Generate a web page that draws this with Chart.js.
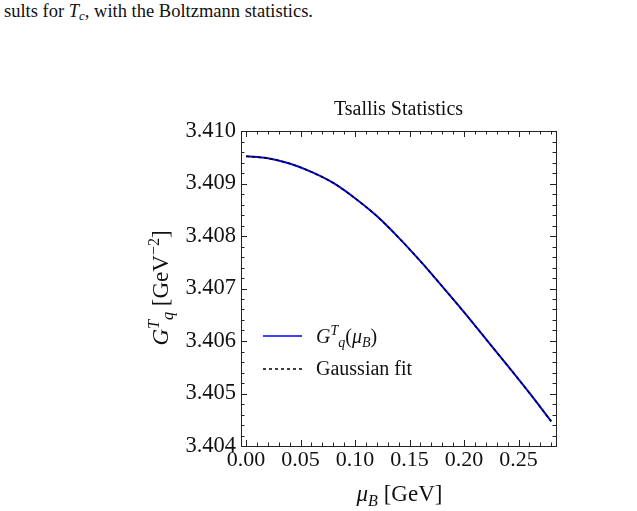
<!DOCTYPE html>
<html>
<head>
<meta charset="utf-8">
<script src="https://cdn.jsdelivr.net/npm/chart.js@4.4.0/dist/chart.umd.min.js"></script>
<style>
  body { margin: 0; background: #fff; }
  #wrap { position: relative; width: 637px; height: 511px; }
  #caption {
    position: absolute; left: 4px; top: 1px;
    font-family: 'Liberation Serif', 'Times New Roman', serif;
    font-size: 18.5px; color: #111; white-space: nowrap;
  }
  #caption sub { font-size: 13px; vertical-align: -3px; line-height: 0; }
  canvas { position: absolute; left: 0; top: 0; }
</style>
</head>
<body>
<div id="wrap">
  <div id="caption">sults for <i>T</i><sub><i>c</i></sub>, with the Boltzmann statistics.</div>
  <canvas id="chart" width="637" height="511"></canvas>
</div>
<script>
// values
const muB = [0, 0.02, 0.04, 0.06, 0.08, 0.10, 0.12, 0.14, 0.16, 0.18, 0.20, 0.22, 0.24, 0.26, 0.28];
const gTq = [3.40952, 3.40948, 3.40938, 3.40922, 3.40901, 3.40872, 3.40838, 3.40797,
             3.40752, 3.40704, 3.40655, 3.40604, 3.40553, 3.40501, 3.40447];
const gaussFit = [3.40952, 3.40948, 3.40938, 3.40922, 3.40901, 3.40872, 3.40838, 3.40797,
                  3.40752, 3.40704, 3.40655, 3.40604, 3.40553, 3.40501, 3.40447];
const xTicks = [0, 0.05, 0.10, 0.15, 0.20, 0.25];
const yTicks = [3.404, 3.405, 3.406, 3.407, 3.408, 3.409, 3.410];

const FONT = "'Liberation Serif', 'Times New Roman', serif";

function pts(xs, ys) {
    return xs.map(function(x, i) { return { x: x, y: ys[i] }; });
}

// draw text made of parts: [text, italic, 'sup' | 'sub' | '']
function richText(ctx, parts, x, y, size, align) {
    function font(p) {
        const s = p[2] ? size * 0.7 : size;
        return (p[1] ? 'italic ' : '') + s + 'px ' + FONT;
    }
    let w = 0;
    parts.forEach(function(p) { ctx.font = font(p); w += ctx.measureText(p[0]).width; });
    let cx = align === 'center' ? x - w / 2 : x;
    parts.forEach(function(p) {
        ctx.font = font(p);
        let dy = 0;
        if (p[2] === 'sup') dy = -size * 0.38;
        if (p[2] === 'sub') dy = size * 0.22;
        ctx.fillText(p[0], cx, y + dy);
        cx += ctx.measureText(p[0]).width;
    });
}

// frame with inward ticks on all four sides
const framePlugin = {
    id: 'frame',
    afterDatasetsDraw: function(chart) {
        const ctx = chart.ctx, a = chart.chartArea;
        const xs = chart.scales.x, ys = chart.scales.y;
        ctx.save();
        ctx.strokeStyle = '#222';
        ctx.lineWidth = 1;
        ctx.strokeRect(a.left + 0.5, a.top + 0.5, a.right - a.left, a.bottom - a.top);
        ctx.beginPath();
        for (let i = 0; i <= 28; i++) {
            const v = i * 0.01;
            const px = Math.round(xs.getPixelForValue(v)) + 0.5;
            const len = i % 5 === 0 ? 6 : 3.5;
            ctx.moveTo(px, a.bottom); ctx.lineTo(px, a.bottom - len);
            ctx.moveTo(px, a.top); ctx.lineTo(px, a.top + len);
        }
        for (let i = 0; i <= 30; i++) {
            const v = 3.404 + i * 0.0002;
            const py = Math.round(ys.getPixelForValue(v)) + 0.5;
            const len = i % 5 === 0 ? 6 : 3.5;
            ctx.moveTo(a.left, py); ctx.lineTo(a.left + len, py);
            ctx.moveTo(a.right, py); ctx.lineTo(a.right - len, py);
        }
        ctx.stroke();
        ctx.restore();
    },
    afterDraw: function(chart) {
        const ctx = chart.ctx, a = chart.chartArea;
        ctx.save();
        ctx.fillStyle = '#111';
        ctx.textBaseline = 'alphabetic';
        ctx.textAlign = 'left';

        // title
        ctx.font = '20px ' + FONT;
        ctx.textAlign = 'center';
        ctx.fillText('Tsallis Statistics', (a.left + a.right) / 2, 115);
        ctx.textAlign = 'left';

        // x axis title
        richText(ctx, [['\u03bc', true, ''], ['B', true, 'sub'], [' [GeV]', false, '']],
                 (a.left + a.right) / 2 + 1, 501, 23, 'center');

        // y axis title
        ctx.save();
        ctx.translate(168, 288);
        ctx.rotate(-Math.PI / 2);
        richText(ctx, [['G', true, ''], ['T', true, 'sup'], ['q', true, 'sub'],
                       [' [GeV', false, ''], ['\u22122', false, 'sup'], [']', false, '']],
                 0, 0, 23, 'center');
        ctx.restore();

        // legend
        ctx.lineWidth = 1.5;
        ctx.strokeStyle = '#0000ff';
        ctx.beginPath(); ctx.moveTo(263, 336); ctx.lineTo(302, 336); ctx.stroke();
        ctx.strokeStyle = '#000';
        ctx.setLineDash([3, 3]);
        ctx.beginPath(); ctx.moveTo(263, 369); ctx.lineTo(302, 369); ctx.stroke();
        ctx.setLineDash([]);
        richText(ctx, [['G', true, ''], ['T', true, 'sup'], ['q', true, 'sub'], ['(', false, ''],
                       ['\u03bc', true, ''], ['B', true, 'sub'], [')', false, '']], 316, 343, 20, 'left');
        ctx.font = '20px ' + FONT;
        ctx.fillText('Gaussian fit', 316, 375);
        ctx.restore();
    }
};

new Chart(document.getElementById('chart').getContext('2d'), {
    type: 'scatter',
    data: {
        datasets: [{
            label: 'G^T_q(muB)',
            data: pts(muB, gTq),
            showLine: true,
            borderColor: '#0000ff',
            borderWidth: 2,
            pointRadius: 0,
            order: 1,
            cubicInterpolationMode: 'monotone'
        }, {
            label: 'Gaussian fit',
            data: pts(muB, gaussFit),
            showLine: true,
            borderColor: '#000000',
            borderWidth: 1.5,
            borderDash: [3, 3],
            pointRadius: 0,
            order: 0,
            cubicInterpolationMode: 'monotone'
        }]
    },
    options: {
        responsive: false,
        animation: false,
        devicePixelRatio: 1,
        layout: { padding: { left: 0, right: 81, top: 131, bottom: 0 } },
        plugins: { legend: { display: false }, title: { display: false }, tooltip: { enabled: false } },
        scales: {
            x: {
                type: 'linear',
                min: -0.0046,
                max: 0.2844,
                grid: { display: false, drawTicks: false },
                border: { display: false },
                afterBuildTicks: function(s) { s.ticks = xTicks.map(function(v) { return { value: v }; }); },
                afterFit: function(s) { s.height = 65; },
                ticks: {
                    padding: 1,
                    color: '#111',
                    font: { family: FONT, size: 22 },
                    maxRotation: 0,
                    callback: function(v) { return Number(v).toFixed(2); }
                }
            },
            y: {
                type: 'linear',
                min: 3.404,
                max: 3.410,
                grid: { display: false, drawTicks: false },
                border: { display: false },
                afterBuildTicks: function(s) { s.ticks = yTicks.map(function(v) { return { value: v }; }); },
                afterFit: function(s) { s.width = 241; },
                ticks: {
                    padding: 5,
                    color: '#111',
                    font: { family: FONT, size: 22.5 },
                    callback: function(v) { return Number(v).toFixed(3); }
                }
            }
        }
    },
    plugins: [framePlugin]
});
</script>
</body>
</html>
